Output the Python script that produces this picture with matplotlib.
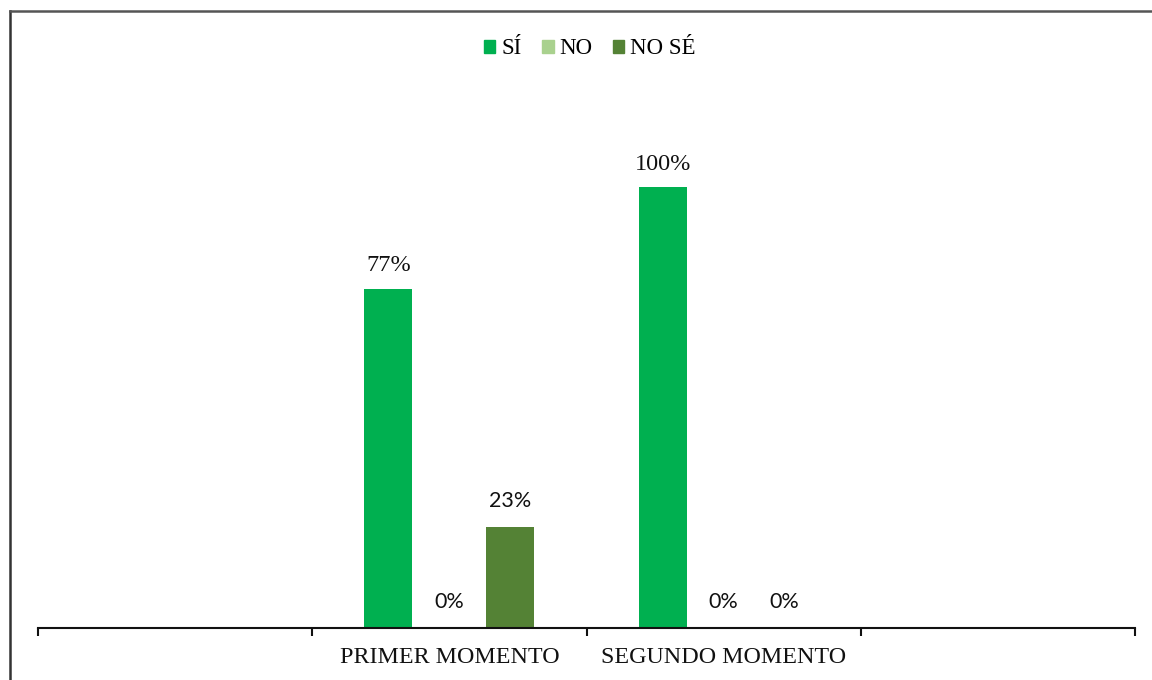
import matplotlib
matplotlib.use("Agg")
import matplotlib.pyplot as plt
import numpy as np
from matplotlib.lines import Line2D

categories = ["", "PRIMER MOMENTO", "SEGUNDO MOMENTO", ""]
series_names = ["SÍ", "NO", "NO SÉ"]
si = [np.nan, 0.77, 1.00, np.nan]
no = [np.nan, 0.00, 0.00, np.nan]
nose = [np.nan, 0.23, 0.00, np.nan]
colors = ["#00B050", "#A9D18E", "#548235"]

fig = plt.figure(figsize=(11.52, 6.8), dpi=100)
ax = fig.add_axes([38/1152, 52/680, (1135-38)/1152, (628-143)/680])

x = np.arange(len(categories))
w = 0.175
offs = [-0.222, 0.0, 0.222]
series = [si, no, nose]
for i, (vals, name, col) in enumerate(zip(series, series_names, colors)):
    v = np.array(vals, dtype=float)
    ax.bar(x + offs[i], np.nan_to_num(v), width=w, color=col, label=name)
    for xi, val in zip(x + offs[i], v):
        if np.isnan(val):
            continue
        txt = f"{val*100:.0f}%"
        if i == 0:
            ax.annotate(txt, (xi, val), xytext=(0, 9), textcoords="offset points",
                        ha="center", va="bottom", fontsize=17.5,
                        family=["Liberation Serif"], color="#111111")
        else:
            ax.annotate(txt, (xi, val), xytext=(0, 11.5), textcoords="offset points",
                        ha="center", va="bottom", fontsize=15.5,
                        family=["Lato", "DejaVu Sans"], color="#111111")

ax.set_xlim(-0.5, len(categories) - 0.5)
ax.set_ylim(0, 1.1)
for s in ["top", "right", "left"]:
    ax.spines[s].set_visible(False)
ax.spines["bottom"].set_linewidth(1.5)
ax.spines["bottom"].set_color("#111111")
ax.set_yticks([])
ax.set_xticks(x)
ax.set_xticklabels(categories, family=["Liberation Serif"], fontsize=17.3, color="#111111")
ax.tick_params(axis="x", which="major", length=0, pad=14)
ax.set_xticks(np.arange(-0.5, len(categories), 1.0), minor=True)
ax.tick_params(axis="x", which="minor", length=6, width=1.5, color="#111111", direction="out")

handles = [plt.Rectangle((0, 0), 1, 1, color=c) for c in colors]
fig.legend(handles, series_names, loc="center", bbox_to_anchor=(0.512, 0.928), ncol=3,
           frameon=False, prop={"family": "Liberation Serif", "size": 16.5},
           handlelength=0.5, handleheight=0.5, handletextpad=0.25, columnspacing=0.9)

# outer frame (left and top edges)
fig.add_artist(Line2D([10/1152, 10/1152], [0, 1 - 11/680], transform=fig.transFigure,
                      color="#333333", linewidth=1.8))
fig.add_artist(Line2D([10/1152, 1], [1 - 11/680, 1 - 11/680], transform=fig.transFigure,
                      color="#555555", linewidth=1.8))

fig.savefig("out.png", dpi=100)
